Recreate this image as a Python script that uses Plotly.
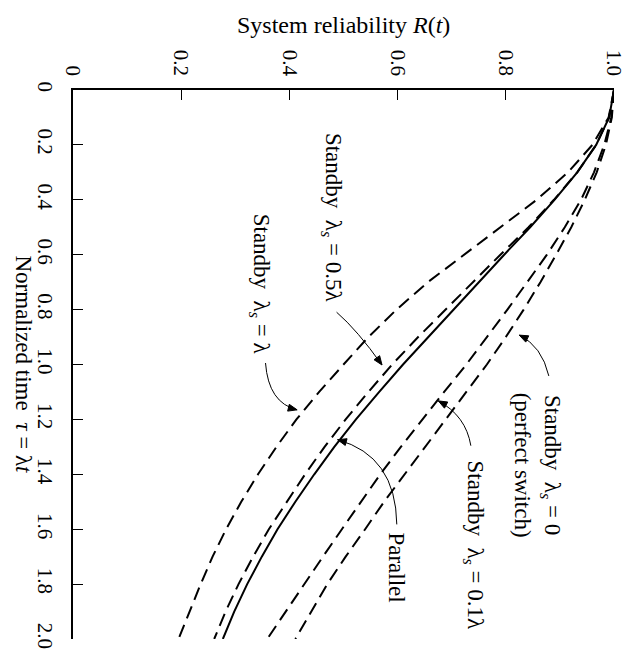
import plotly.graph_objects as go

# ---- data ----
tau = [0.0, 0.1, 0.2, 0.3, 0.4, 0.5, 0.6, 0.7, 0.8, 0.9, 1.0,
       1.1, 1.2, 1.3, 1.4, 1.5, 1.6, 1.7, 1.8, 1.9, 2.0]

standby_lam = [1.0, 0.99, 0.96, 0.915, 0.857, 0.79, 0.722, 0.656, 0.598, 0.546, 0.5,
               0.455, 0.413, 0.376, 0.342, 0.311, 0.283, 0.258, 0.236, 0.215, 0.195]
standby_half = [1.0, 0.991, 0.967, 0.932, 0.889, 0.842, 0.79, 0.739, 0.688, 0.638, 0.59,
                0.546, 0.504, 0.465, 0.429, 0.395, 0.362, 0.333, 0.306, 0.282, 0.261]
parallel = [1.0, 0.991, 0.967, 0.932, 0.89, 0.845, 0.797, 0.75, 0.703, 0.656, 0.61,
            0.566, 0.523, 0.483, 0.446, 0.411, 0.378, 0.349, 0.322, 0.298, 0.277]
standby_tenth = [1.0, 0.995, 0.982, 0.963, 0.939, 0.909, 0.876, 0.84, 0.803, 0.765, 0.727,
                 0.686, 0.646, 0.606, 0.568, 0.532, 0.497, 0.462, 0.428, 0.393, 0.359]
standby_perfect = [1.0, 0.996, 0.985, 0.968, 0.946, 0.921, 0.893, 0.864, 0.833, 0.8, 0.765,
                   0.727, 0.688, 0.65, 0.612, 0.575, 0.54, 0.504, 0.47, 0.44, 0.411]

r_ticks = [0, 0.2, 0.4, 0.6, 0.8, 1.0]
r_labels = ["0", "0.2", "0.4", "0.6", "0.8", "1.0"]
t_ticks = [0, 0.2, 0.4, 0.6, 0.8, 1.0, 1.2, 1.4, 1.6, 1.8, 2.0]
t_labels = ["0", "0.2", "0.4", "0.6", "0.8", "1.0", "1.2", "1.4", "1.6", "1.8", "2.0"]

FONT = "Liberation Serif"
W, H = 630, 653
L, R, T, B = 65, 17, 82, 20

def rx(px):
    return (px - L) / (W - L - R)

def ty(py):
    return 2.0 * (py - T) / (H - T - B)

fig = go.Figure()
dash = "13px,7px"
series = [
    (standby_lam, dash),
    (standby_half, dash),
    (parallel, "solid"),
    (standby_tenth, dash),
    (standby_perfect, dash),
]
for vals, d in series:
    fig.add_trace(go.Scatter(x=vals, y=tau, mode="lines",
                             line=dict(color="black", width=2, dash=d),
                             showlegend=False, hoverinfo="skip"))

fig.update_layout(
    width=W, height=H,
    margin=dict(l=L, r=R, t=T, b=B),
    paper_bgcolor="white", plot_bgcolor="white",
    font=dict(family=FONT, color="black", size=21),
    xaxis=dict(range=[0, 1], side="top", tickvals=r_ticks, ticktext=r_labels,
               tickangle=90, ticks="inside", ticklen=10, tickwidth=1, tickcolor="black",
               showline=True, linecolor="black", linewidth=1.5, showgrid=False,
               zeroline=False, ticklabelstandoff=5),
    yaxis=dict(range=[2.0, 0], tickvals=t_ticks, ticktext=t_labels,
               tickangle=90, ticks="inside", ticklen=10, tickwidth=1, tickcolor="black",
               showline=True, linecolor="black", linewidth=1.5, showgrid=False,
               zeroline=False, ticklabelstandoff=8),
)

annos = []
# axis titles
annos.append(dict(text="System reliability <i>R</i>(<i>t</i>)", xref="paper", yref="paper",
                  x=0.5, y=1, yshift=65, showarrow=False, font=dict(size=24),
                  xanchor="center", yanchor="middle"))
annos.append(dict(text="Normalized time\u00a0\u00a0<i>\u03c4</i> = \u03bb<i>t</i>",
                  xref="paper", yref="paper", x=0, xshift=-50, y=0.5, textangle=90,
                  showarrow=False, font=dict(size=23), xanchor="center", yanchor="middle"))

labels = [
    ("Standby\u00a0\u00a0\u03bb<sub><i>s</i></sub> = 0.5\u03bb", 328, 210),
    ("Standby\u00a0\u00a0\u03bb<sub><i>s</i></sub> = \u03bb", 254, 277),
    ("Parallel", 393, 561),
    ("Standby\u00a0\u00a0\u03bb<sub><i>s</i></sub> = 0<br>(perfect switch)", 535, 458),
    ("Standby\u00a0\u00a0\u03bb<sub><i>s</i></sub> = 0.1\u03bb", 471, 539),
]
for txt, px, py in labels:
    annos.append(dict(text=txt, x=rx(px), y=ty(py), xref="x", yref="y", textangle=90,
                      showarrow=False, font=dict(size=23), xanchor="center", yanchor="middle"))

arrows = [
    ((332, 305), (353, 323), (378, 358)),
    ((260, 356), (263, 396), (292, 403)),
    ((393, 518), (392, 449), (333, 433)),
    ((547, 369), (540, 339), (517, 328)),
    ((468, 439), (463, 409), (435, 394)),
]
shapes = []
for s, c, t in arrows:
    path = "M {},{} Q {},{} {},{}".format(rx(s[0]), ty(s[1]), rx(c[0]), ty(c[1]), rx(t[0]), ty(t[1]))
    shapes.append(dict(type="path", path=path, xref="x", yref="y",
                       line=dict(color="black", width=1)))
    ux, uy = t[0] - c[0], t[1] - c[1]
    n = (ux * ux + uy * uy) ** 0.5
    ux, uy = ux / n, uy / n
    bx, by = t[0] - ux * 9, t[1] - uy * 9
    px_, py_ = -uy * 3.5, ux * 3.5
    head = "M {},{} L {},{} L {},{} Z".format(
        rx(t[0]), ty(t[1]), rx(bx + px_), ty(by + py_), rx(bx - px_), ty(by - py_))
    shapes.append(dict(type="path", path=head, xref="x", yref="y",
                       fillcolor="black", line=dict(color="black", width=1)))

fig.update_layout(annotations=annos, shapes=shapes)
fig.write_html("out.html")
